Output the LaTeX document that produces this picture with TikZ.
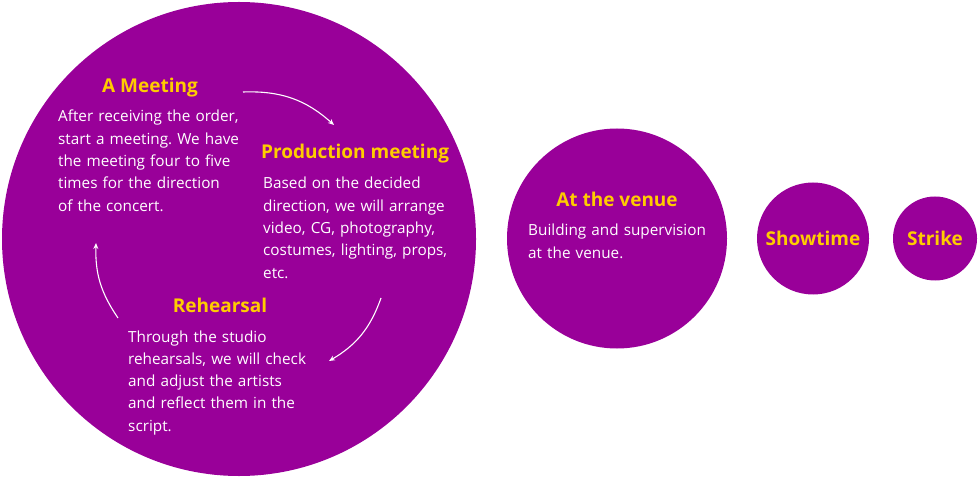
\documentclass[tikz,border=0pt]{standalone}
\usepackage{fontspec}
\setmainfont{Open Sans}
\frenchspacing
\usetikzlibrary{arrows.meta}

\begin{document}
\begin{tikzpicture}[x=1pt, y=-1pt,
    stage/.style={circle, fill=stagePurple, inner sep=0pt, minimum size=#1},
    title/.style={text=stageYellow, font=\bfseries\fontsize{19}{22}\selectfont, inner sep=0pt},
    body/.style={text=white, font=\fontsize{15.3}{22.3}\selectfont, align=left,
                 inner sep=0pt, anchor=base west, text width=#1},
    flow/.style={white, line width=1.1pt, -{Stealth[length=6pt, width=5pt]}}]
    % Define colours
    \definecolor{stagePurple}{HTML}{990099}
    \definecolor{stageYellow}{HTML}{FFCC00}

    % Fix the picture size
    \useasboundingbox (0,0) rectangle (979,478);

    % Draw the stage circles
    \node[stage=474pt] (prep) at (239,239) {};
    \node[stage=220pt] (venue) at (617,238.5) {};
    \node[stage=112pt] (show) at (813,238.5) {};
    \node[stage=84pt] (strike) at (935,238.5) {};

    % A meeting
    \node[title, anchor=base] (meetTitle) at (150,93) {A Meeting};
    \node[body=220pt] (meetText) at (58,122)
        {After receiving the order,\\ start a meeting. We have\\ the meeting four to five\\
         times for the direction\\ of the concert.};

    % Production meeting
    \node[title, anchor=base west] (prodTitle) at (261,159) {Production meeting};
    \node[body=220pt] (prodText) at (263,189)
        {Based on the decided\\ direction, we will arrange\\ video, CG, photography,\\
         costumes, lighting, props,\\ etc.};

    % Rehearsal
    \node[title, anchor=base] (rehTitle) at (220,312) {Rehearsal};
    \node[body=220pt] (rehText) at (128,342)
        {Through the studio\\ rehearsals, we will check\\ and adjust the artists\\
         and reflect them in the\\ script.};

    % At the venue
    \node[title, anchor=base] (venueTitle) at (617,207) {At the venue};
    \node[body=220pt] (venueText) at (528,236)
        {Building and supervision\\ at the venue.};

    % Showtime and strike
    \node[title] (showTitle) at (show) {Showtime};
    \node[title] (strikeTitle) at (strike) {Strike};

    % Define arrow ends
    \coordinate (meetOut) at (243,92);
    \coordinate (prodIn) at (334,125);
    \coordinate (prodOut) at (381,298);
    \coordinate (rehIn) at (329,361);
    \coordinate (rehOut) at (118,318);
    \coordinate (meetIn) at (96,243);

    % Draw the cycle arrows
    \draw[flow] (meetOut) to[bend left=22] (prodIn);
    \draw[flow] (prodOut) to[bend left=20] (rehIn);
    \draw[flow] (rehOut) to[bend left=18] (meetIn);

\end{tikzpicture}
\end{document}
